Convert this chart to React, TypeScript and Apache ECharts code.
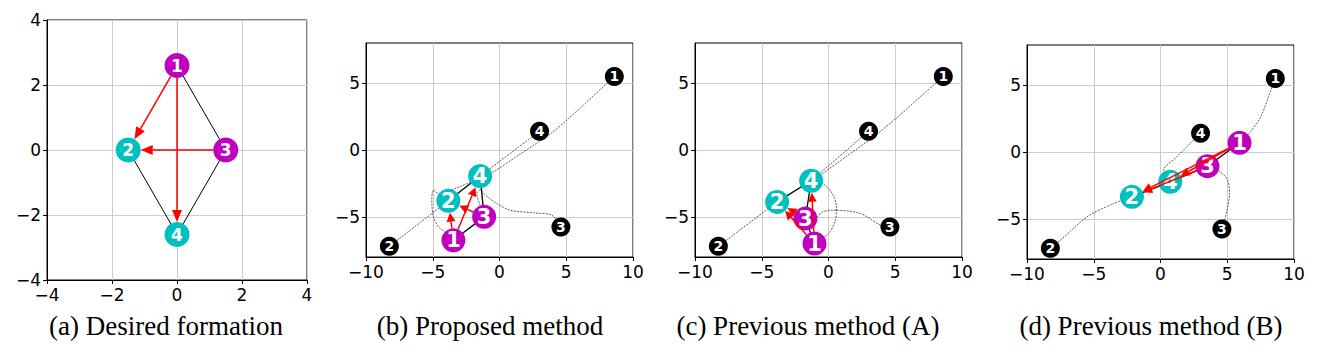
import React, { useEffect, useRef } from "react";
import * as echarts from "echarts";

// ---------- data ----------
const AGENT_LABELS = ["1", "2", "3", "4"];
const AGENT_COLORS = ["#bf00bf", "#00bfbf", "#bf00bf", "#00bfbf"];
const EDGES = [[1, 3], [3, 4], [4, 2]];
const ARROWS = [[1, 2], [1, 4], [3, 2]];

const DESIRED = [[0, 2.6], [-1.5, 0], [1.5, 0], [0, -2.6]];
const START = [[8.6, 5.5], [-8.25, -7.2], [4.6, -5.75], [3.0, 1.4]];

const FINAL_B = [[-3.45, -6.75], [-3.83, -3.8], [-1.15, -5.0], [-1.45, -1.95]];
const FINAL_C = [[-1.05, -7.0], [-3.85, -3.88], [-1.73, -5.13], [-1.3, -2.3]];
const FINAL_D = [[5.92, 0.69], [-2.14, -3.35], [3.52, -1.06], [0.73, -2.23]];

// intermediate trajectory points per agent (start / final are added)
const PATH_B = [
  [[7.93, 4.87], [5.06, 2.25], [3.8, 1.2], [1.55, -0.3], [-0.45, -1.63], [-1.45, -2.1], [-3.0, -2.75], [-4.57, -3.25], [-4.95, -3.0], [-5.07, -3.75], [-4.95, -5.0], [-4.57, -5.75], [-4.07, -6.13]],
  [],
  [[3.93, -4.88], [2.55, -4.7], [0.8, -4.5], [-0.2, -4.0], [-1.07, -3.37], [-1.45, -3.0], [-1.7, -3.3], [-1.5, -4.0]],
  [],
];
const PATH_C = [
  [[8.03, 5.0], [3.9, 1.4], [-0.7, -1.95], [-0.9, -2.2], [-0.47, -2.45], [0.28, -3.25], [0.6, -4.26], [0.52, -5.25], [0.02, -6.25], [-0.47, -6.55]],
  [],
  [[3.9, -5.63], [2.4, -4.75], [0.4, -4.5], [-0.47, -4.63], [-0.85, -5.0]],
  [],
];
const PATH_D = [
  [[8.36, 4.88], [7.5, 2.63], [6.64, 1.39]],
  [[-7.5, -6.6], [-5.5, -4.85], [-3.5, -3.85]],
  [[4.84, -4.97], [5.17, -3.1], [5.02, -2.1], [4.47, -1.48]],
  [[2.47, 0.89], [1.23, -0.36], [0.23, -1.36]],
];

const CAPTIONS = [
  "(a) Desired formation",
  "(b) Proposed method",
  "(c) Previous method (A)",
  "(d) Previous method (B)",
];
const TICKS_A = [-4, -2, 0, 2, 4];
const TICKS_X = [-10, -5, 0, 5, 10];
const TICKS_Y = [-5, 0, 5];

// ---------- helpers ----------
const fmt = (v: number) => (v < 0 ? "\u2212" + Math.abs(v) : String(v));

function axis(i: number, min: number, max: number, ticks: number[]) {
  return {
    type: "value",
    gridIndex: i,
    min,
    max,
    axisLine: { show: true, onZero: false, lineStyle: { color: "#000", width: 1 } },
    axisTick: { show: true, length: 4, lineStyle: { color: "#000", width: 1 }, customValues: ticks },
    axisLabel: {
      customValues: ticks,
      formatter: fmt,
      color: "#000",
      fontFamily: "DejaVu Sans",
      fontSize: 17,
      margin: 6,
    },
    splitLine: { show: true, lineStyle: { color: "#cccccc", width: 1 } },
  };
}

function pairData(pos: number[][], pairs: number[][]) {
  return pairs.map(([a, b]) => [pos[a - 1][0], pos[a - 1][1], pos[b - 1][0], pos[b - 1][1]]);
}

function edgeSeries(i: number, pos: number[][], width: number) {
  return {
    type: "custom",
    xAxisIndex: i,
    yAxisIndex: i,
    z: 2,
    silent: true,
    encode: { x: [0, 2], y: [1, 3] },
    data: pairData(pos, EDGES),
    renderItem: (_p: any, api: any) => {
      const p1 = api.coord([api.value(0), api.value(1)]);
      const p2 = api.coord([api.value(2), api.value(3)]);
      return {
        type: "line",
        shape: { x1: p1[0], y1: p1[1], x2: p2[0], y2: p2[1] },
        style: { stroke: "#000", lineWidth: width },
      };
    },
  };
}

function arrowSeries(i: number, pos: number[][], r: number, headLen: number, headHalf: number, lw: number) {
  return {
    type: "custom",
    xAxisIndex: i,
    yAxisIndex: i,
    z: 5,
    silent: true,
    encode: { x: [0, 2], y: [1, 3] },
    data: pairData(pos, ARROWS),
    renderItem: (_p: any, api: any) => {
      const p1 = api.coord([api.value(0), api.value(1)]);
      const p2 = api.coord([api.value(2), api.value(3)]);
      const dx = p2[0] - p1[0];
      const dy = p2[1] - p1[1];
      const len = Math.hypot(dx, dy) || 1;
      const ux = dx / len;
      const uy = dy / len;
      const s = [p1[0] + ux * r, p1[1] + uy * r];
      const tip = [p2[0] - ux * r, p2[1] - uy * r];
      const base = [tip[0] - ux * headLen, tip[1] - uy * headLen];
      const nx = -uy;
      const ny = ux;
      return {
        type: "group",
        children: [
          {
            type: "line",
            shape: { x1: s[0], y1: s[1], x2: base[0], y2: base[1] },
            style: { stroke: "#ff0000", lineWidth: lw },
          },
          {
            type: "polygon",
            shape: {
              points: [
                tip,
                [base[0] + nx * headHalf, base[1] + ny * headHalf],
                [base[0] - nx * headHalf, base[1] - ny * headHalf],
              ],
            },
            style: { fill: "#ff0000" },
          },
        ],
      };
    },
  };
}

function circleSeries(i: number, pos: number[][], colors: string[], size: number, fontSize: number, z: number) {
  return {
    type: "scatter",
    xAxisIndex: i,
    yAxisIndex: i,
    z,
    silent: true,
    symbolSize: size,
    data: pos.map((p, k) => ({
      value: p,
      itemStyle: { color: colors[k], opacity: 1 },
      label: { formatter: AGENT_LABELS[k] },
    })),
    label: {
      show: true,
      position: "inside",
      color: "#fff",
      fontFamily: "DejaVu Sans",
      fontWeight: "bold",
      fontSize,
    },
  };
}

function pathSeries(i: number, paths: number[][][], final: number[][]) {
  return paths.map((mid, k) => ({
    type: "line",
    xAxisIndex: i,
    yAxisIndex: i,
    z: 1,
    silent: true,
    showSymbol: false,
    symbol: "none",
    smooth: 0.3,
    data: [START[k], ...mid, final[k]],
    lineStyle: { color: "#333", width: 0.8, type: [2, 1.2] },
  }));
}

const GRIDS = [
  { left: 47, top: 20, width: 260, height: 260 },
  { left: 366, top: 43, width: 267, height: 214 },
  { left: 695, top: 43, width: 267, height: 214 },
  { left: 1027, top: 45, width: 267, height: 214 },
];
const CAPTION_X = [166, 490, 808, 1151];

export default function App() {
  const ref = useRef<HTMLDivElement>(null);
  useEffect(() => {
    if (!ref.current) return;
    const chart = echarts.init(ref.current, null, { renderer: "svg" });
    const black = ["#000", "#000", "#000", "#000"];
    const panels = [
      { fin: FINAL_B, path: PATH_B },
      { fin: FINAL_C, path: PATH_C },
      { fin: FINAL_D, path: PATH_D },
    ];
    const series: any[] = [
      edgeSeries(0, DESIRED, 1),
      circleSeries(0, DESIRED, AGENT_COLORS, 25, 17, 4),
      arrowSeries(0, DESIRED, 12.5, 12, 5, 1.5),
    ];
    panels.forEach((p, j) => {
      const i = j + 1;
      series.push(...pathSeries(i, p.path, p.fin));
      series.push(edgeSeries(i, p.fin, 1.3));
      series.push(circleSeries(i, START, black, 19, 14, 3));
      series.push(circleSeries(i, p.fin, AGENT_COLORS, 24, 21, 4));
      series.push(arrowSeries(i, p.fin, 12, 9, 4.5, 1.5));
    });
    chart.setOption({
      animation: false,
      backgroundColor: "#fff",
      grid: GRIDS.map((g) => ({ ...g, show: true, borderColor: "#000", borderWidth: 1, backgroundColor: "transparent" })),
      xAxis: [axis(0, -4, 4, TICKS_A), axis(1, -10, 10, TICKS_X), axis(2, -10, 10, TICKS_X), axis(3, -10, 10, TICKS_X)],
      yAxis: [axis(0, -4, 4, TICKS_A), axis(1, -8, 8, TICKS_Y), axis(2, -8, 8, TICKS_Y), axis(3, -8, 8, TICKS_Y)],
      series,
      graphic: CAPTIONS.map((t, k) => ({
        type: "text",
        x: CAPTION_X[k],
        y: 326,
        style: {
          text: t,
          fill: "#000",
          font: "27px 'Liberation Serif'",
          align: "center",
          textAlign: "center",
          verticalAlign: "middle",
          textVerticalAlign: "middle",
        },
      })),
    });
    return () => chart.dispose();
  }, []);
  return (
    <div
      ref={ref}
      style={{ position: "absolute", left: 0, top: 0, width: 1329, height: 359, background: "#fff" }}
    />
  );
}
